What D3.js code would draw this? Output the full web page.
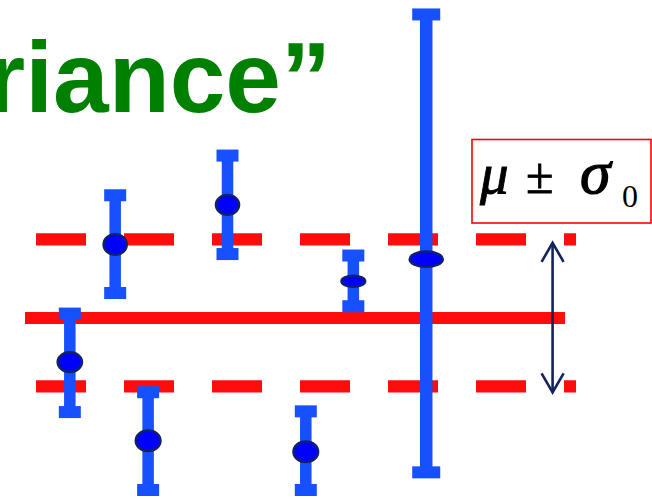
<!DOCTYPE html>
<html>
<head>
<meta charset="utf-8">
<script src="https://cdn.jsdelivr.net/npm/d3@7"></script>
<style>
  html, body { margin: 0; padding: 0; background: #fff; }
  svg { display: block; }
</style>
</head>
<body>
<div id="chart"></div>
<script>
// Measurements with error bars, against the mean and the ±σ0 band
const pointX     = [0.83, 1.67, 2.28, 3.75, 5.20, 6.08, 7.43];
const pointValue = [-0.60, 1.00, -1.67, 1.54, -1.82, 0.50, 0.80];
const errHigh    = [0.06, 1.67, -1.01, 2.21, -1.27, 0.85, 4.13];
const errLow     = [-1.28, 0.34, -2.34, 0.87, -2.34, 0.16, -2.10];

const mu = 0;
const sigmaUp = 1.07;     // upper dashed line
const sigmaDown = -0.93;  // lower dashed line

const titleText = "riance\u201D";

// Per-point marker styling
const markerRx = [12.3, 11.7, 12.5, 11.7, 12.5, 12, 16.7];
const markerRy = [10, 10.5, 10.5, 10, 10.5, 5.7, 7.8];
const capWidth = [22, 22, 22, 22, 22, 22, 28];
const stemWidth = [11.5, 11.5, 11.5, 11.5, 11.5, 11.5, 12.5];

const W = 652, H = 499;
const svg = d3.select("#chart").append("svg")
  .attr("width", W).attr("height", H);

const x = d3.scaleLinear().domain([0, 10]).range([25, 565]);
const y = d3.scaleLinear().domain([-2.5, 4.3]).range([501.75, 1.95]);

const RED = "#ff0d0d", BLUE = "#1650ff", NAVY = "#13235e";

// Title (green, bold), running off the left edge
svg.append("text")
  .attr("x", 331).attr("y", 112)
  .attr("text-anchor", "end")
  .attr("font-family", "'Liberation Sans', Arial, sans-serif")
  .attr("font-weight", "bold")
  .attr("font-size", 100)
  .attr("fill", "#008000")
  .text(titleText);

// Reference lines
svg.append("line")
  .attr("x1", x(0)).attr("x2", x(10))
  .attr("y1", y(mu)).attr("y2", y(mu))
  .attr("stroke", RED).attr("stroke-width", 12);

[sigmaUp, sigmaDown].forEach(v => {
  svg.append("line")
    .attr("x1", x(0.204)).attr("x2", x(10.204))
    .attr("y1", y(v)).attr("y2", y(v))
    .attr("stroke", RED).attr("stroke-width", 12.4)
    .attr("stroke-dasharray", "50 38");
});

// Error bars
const pts = pointX.map((px, i) => ({
  x: px, v: pointValue[i], hi: errHigh[i], lo: errLow[i], i
}));

const g = svg.append("g");
const bars = g.selectAll("g.bar").data(pts).join("g").attr("class", "bar");

bars.append("rect")
  .attr("x", d => x(d.x) - stemWidth[d.i] / 2)
  .attr("y", d => y(d.hi))
  .attr("width", d => stemWidth[d.i])
  .attr("height", d => y(d.lo) - y(d.hi))
  .attr("fill", BLUE);

bars.append("rect")
  .attr("x", d => x(d.x) - capWidth[d.i] / 2)
  .attr("y", d => y(d.hi) - 6)
  .attr("width", d => capWidth[d.i])
  .attr("height", 12)
  .attr("fill", BLUE);

bars.append("rect")
  .attr("x", d => x(d.x) - capWidth[d.i] / 2)
  .attr("y", d => y(d.lo) - 6)
  .attr("width", d => capWidth[d.i])
  .attr("height", 12)
  .attr("fill", BLUE);

bars.append("ellipse")
  .attr("cx", d => x(d.x))
  .attr("cy", d => y(d.v))
  .attr("rx", d => markerRx[d.i])
  .attr("ry", d => markerRy[d.i])
  .attr("fill", "#0000ff")
  .attr("stroke", NAVY)
  .attr("stroke-width", 2.2);

// Label box: mu ± sigma_0
svg.append("rect")
  .attr("x", 472).attr("y", 139.5)
  .attr("width", 179).attr("height", 83.5)
  .attr("fill", "#fff")
  .attr("stroke", "#ff0000").attr("stroke-width", 1.6);

const serif = "'Liberation Serif', 'Times New Roman', serif";
svg.append("text")
  .attr("x", 480).attr("y", 193)
  .attr("font-family", serif).attr("font-style", "italic")
  .attr("font-size", 57).attr("fill", "#000")
  .attr("stroke", "#000").attr("stroke-width", 0.9)
  .text("\u03BC");
svg.append("text")
  .attr("x", 526).attr("y", 193)
  .attr("font-family", serif)
  .attr("font-size", 50).attr("fill", "#000")
  .attr("stroke", "#000").attr("stroke-width", 0.8)
  .text("\u00B1");
svg.append("text")
  .attr("x", 580).attr("y", 193)
  .attr("font-family", serif).attr("font-style", "italic")
  .attr("font-size", 62).attr("fill", "#000")
  .attr("stroke", "#000").attr("stroke-width", 1.2)
  .text("\u03C3");
svg.append("text")
  .attr("x", 622).attr("y", 207)
  .attr("font-family", serif)
  .attr("font-size", 32).attr("fill", "#000")
  .text("0");

// Double-headed arrow spanning the ±σ0 band
const ax = x(9.77);
const yTop = y(sigmaUp) + 3.5, yBot = y(sigmaDown) + 6;
svg.append("line")
  .attr("x1", ax).attr("x2", ax)
  .attr("y1", yTop).attr("y2", yBot)
  .attr("stroke", NAVY).attr("stroke-width", 2.6);
svg.append("path")
  .attr("d", `M${ax - 11},${yTop + 19} L${ax},${yTop} L${ax + 11},${yTop + 19}`)
  .attr("fill", "none").attr("stroke", NAVY).attr("stroke-width", 2.6);
svg.append("path")
  .attr("d", `M${ax - 11},${yBot - 19} L${ax},${yBot} L${ax + 11},${yBot - 19}`)
  .attr("fill", "none").attr("stroke", NAVY).attr("stroke-width", 2.6);
</script>
</body>
</html>
